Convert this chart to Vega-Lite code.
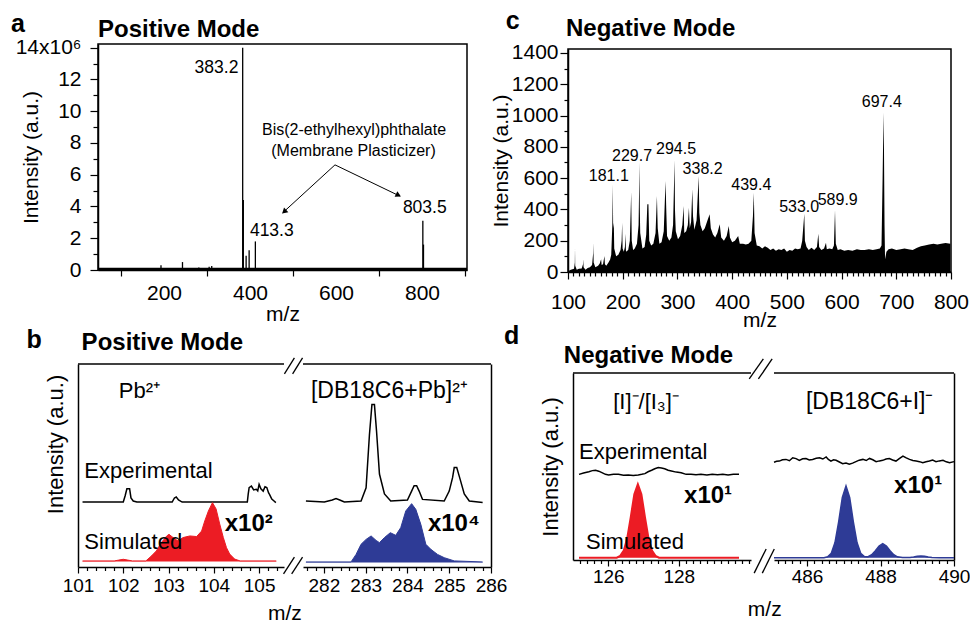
{
 "$schema": "https://vega.github.io/schema/vega-lite/v6.json",
 "background": "white",
 "padding": {"left": 10, "top": 8, "right": 0, "bottom": 0},
 "config": {
  "font": "Liberation Sans",
  "view": {"stroke": null},
  "axis": {"labelFont": "Liberation Sans", "titleFont": "Liberation Sans", "labelColor": "#000", "titleColor": "#000", "domainColor": "#000", "tickColor": "#000", "grid": false, "domainWidth": 1.5, "tickWidth": 1.2, "titleFontWeight": "normal", "labelFlush": false, "labelBound": false},
  "text": {"font": "Liberation Sans", "color": "#000"}
 },
 "datasets": {
  "a_sticks": [{"mz":193,"y":0.3},{"mz":200,"y":0.12},{"mz":210,"y":0.1},{"mz":220,"y":0.12},{"mz":228,"y":0.1},{"mz":243,"y":0.5},{"mz":255,"y":0.1},{"mz":270,"y":0.12},{"mz":281,"y":0.15},{"mz":292,"y":0.1},{"mz":305,"y":0.2},{"mz":311,"y":0.25},{"mz":318,"y":0.12},{"mz":340,"y":0.08},{"mz":383,"y":14.0},{"mz":384.5,"y":4.4},{"mz":391,"y":0.9},{"mz":398,"y":1.25},{"mz":412.5,"y":1.8},{"mz":430,"y":0.1},{"mz":460,"y":0.08},{"mz":500,"y":0.08},{"mz":802,"y":3.1},{"mz":803.5,"y":1.6}],
  "a_labels": [{"mz":322.1,"y":12.43,"t":"383.2"},{"mz":450.7,"y":2.16,"t":"413.3"},{"mz":806.5,"y":3.62,"t":"803.5"}],
  "a_note": [{"mz":641.9,"y":8.49,"t":"Bis(2-ethylhexyl)phthalate"},{"mz":640.7,"y":7.19,"t":"(Membrane Plasticizer)"}],
  "a_arrows": [{"mz":597.7,"y":6.62,"mz2":476,"y2":3.6},{"mz":597.7,"y":6.62,"mz2":748,"y2":4.66}],
  "a_head1": [{"mz":479.5,"y":3.67}],
  "a_head2": [{"mz":745.3,"y":4.71}],
  "a_letter": [{"mz":-155.8,"y":14.99,"t":"a"}],
  "a_title": [{"mz":46.5,"y":14.67,"t":"Positive Mode"}],
  "c_profile": [{"mz":100.5,"y":5},{"mz":104,"y":12},{"mz":108,"y":18},{"mz":111,"y":20},{"mz":112.5,"y":60},{"mz":112.8,"y":155},{"mz":113.2,"y":40},{"mz":116,"y":15},{"mz":120,"y":20},{"mz":125,"y":22},{"mz":127.5,"y":50},{"mz":128,"y":81},{"mz":128.5,"y":30},{"mz":132,"y":15},{"mz":136,"y":25},{"mz":140,"y":30},{"mz":144,"y":45},{"mz":146,"y":120},{"mz":146.4,"y":187},{"mz":146.9,"y":60},{"mz":150,"y":30},{"mz":155,"y":40},{"mz":158,"y":55},{"mz":160.5,"y":81},{"mz":161.5,"y":45},{"mz":164,"y":50},{"mz":166.6,"y":103},{"mz":167.5,"y":50},{"mz":170,"y":40},{"mz":174,"y":60},{"mz":177,"y":80},{"mz":179,"y":110},{"mz":181,"y":300},{"mz":181.9,"y":561},{"mz":182.5,"y":280},{"mz":183.7,"y":315},{"mz":184.5,"y":150},{"mz":188,"y":100},{"mz":192,"y":110},{"mz":196,"y":140},{"mz":198,"y":200},{"mz":199,"y":315},{"mz":199.8,"y":150},{"mz":202,"y":130},{"mz":204,"y":160},{"mz":205,"y":245},{"mz":206,"y":130},{"mz":210,"y":140},{"mz":213,"y":200},{"mz":215.5,"y":511},{"mz":216.5,"y":200},{"mz":219,"y":140},{"mz":222,"y":150},{"mz":226,"y":180},{"mz":229,"y":300},{"mz":230.7,"y":699},{"mz":231.2,"y":411},{"mz":232,"y":250},{"mz":236,"y":150},{"mz":240,"y":160},{"mz":243,"y":240},{"mz":245,"y":433},{"mz":247,"y":433},{"mz":248.5,"y":200},{"mz":252,"y":170},{"mz":256,"y":180},{"mz":260,"y":250},{"mz":262.5,"y":486},{"mz":264,"y":280},{"mz":267,"y":180},{"mz":271,"y":190},{"mz":275,"y":260},{"mz":278.3,"y":582},{"mz":279.5,"y":411},{"mz":281,"y":230},{"mz":285,"y":200},{"mz":289,"y":220},{"mz":292,"y":300},{"mz":294.8,"y":714},{"mz":295.5,"y":400},{"mz":297,"y":260},{"mz":301,"y":210},{"mz":305,"y":230},{"mz":309,"y":300},{"mz":311.3,"y":422},{"mz":312.5,"y":250},{"mz":316,"y":260},{"mz":319,"y":300},{"mz":321,"y":411},{"mz":322.5,"y":280},{"mz":325,"y":320},{"mz":327.2,"y":529},{"mz":328.5,"y":357},{"mz":331,"y":270},{"mz":335,"y":330},{"mz":338.8,"y":614},{"mz":340,"y":379},{"mz":342,"y":300},{"mz":346,"y":260},{"mz":350,"y":280},{"mz":355,"y":330},{"mz":358.9,"y":369},{"mz":361,"y":280},{"mz":365,"y":240},{"mz":369,"y":220},{"mz":373,"y":250},{"mz":377.3,"y":305},{"mz":380,"y":220},{"mz":385,"y":200},{"mz":390,"y":230},{"mz":393.8,"y":294},{"mz":396,"y":220},{"mz":400,"y":190},{"mz":405,"y":200},{"mz":411,"y":230},{"mz":414,"y":180},{"mz":420,"y":180},{"mz":425,"y":175},{"mz":430,"y":180},{"mz":435,"y":200},{"mz":438,"y":357},{"mz":439.6,"y":507},{"mz":441,"y":250},{"mz":445,"y":170},{"mz":450,"y":165},{"mz":455,"y":150},{"mz":460,"y":165},{"mz":465,"y":155},{"mz":470,"y":140},{"mz":475,"y":150},{"mz":480,"y":135},{"mz":485,"y":145},{"mz":490,"y":140},{"mz":495,"y":150},{"mz":500,"y":130},{"mz":505,"y":140},{"mz":510,"y":135},{"mz":515,"y":150},{"mz":520,"y":145},{"mz":525,"y":150},{"mz":528,"y":198},{"mz":531.9,"y":373},{"mz":533,"y":200},{"mz":536,"y":160},{"mz":540,"y":140},{"mz":545,"y":155},{"mz":550,"y":140},{"mz":555,"y":160},{"mz":557.5,"y":245},{"mz":559,"y":160},{"mz":563,"y":140},{"mz":568,"y":150},{"mz":571.5,"y":187},{"mz":573,"y":145},{"mz":578,"y":150},{"mz":583,"y":145},{"mz":586,"y":170},{"mz":588,"y":394},{"mz":589.5,"y":180},{"mz":593,"y":140},{"mz":598,"y":145},{"mz":605,"y":135},{"mz":612,"y":140},{"mz":620,"y":135},{"mz":628,"y":145},{"mz":635,"y":140},{"mz":642,"y":140},{"mz":650,"y":145},{"mz":657,"y":140},{"mz":664,"y":145},{"mz":670,"y":150},{"mz":673,"y":170},{"mz":675,"y":600},{"mz":676.7,"y":1019},{"mz":677.5,"y":795},{"mz":678.5,"y":300},{"mz":679.5,"y":81},{"mz":682,"y":130},{"mz":686,"y":145},{"mz":692,"y":150},{"mz":700,"y":140},{"mz":708,"y":145},{"mz":715,"y":150},{"mz":722,"y":145},{"mz":730,"y":140},{"mz":738,"y":155},{"mz":745,"y":165},{"mz":752,"y":170},{"mz":760,"y":175},{"mz":768,"y":180},{"mz":775,"y":175},{"mz":782,"y":180},{"mz":790,"y":185},{"mz":798.8,"y":180}],
  "c_labels": [{"mz":174.5,"y":582,"t":"181.1"},{"mz":217,"y":710,"t":"229.7"},{"mz":297.5,"y":752,"t":"294.5"},{"mz":346,"y":629,"t":"338.2"},{"mz":435,"y":525,"t":"439.4"},{"mz":522.5,"y":382,"t":"533.0"},{"mz":593,"y":425,"t":"589.9"},{"mz":673.5,"y":1052,"t":"697.4"}],
  "c_letter": [{"mz":-13.6,"y":1553,"t":"c"}],
  "c_title": [{"mz":96.3,"y":1509,"t":"Negative Mode"}],
  "bl_exp": [{"mz":101.1,"y":32},{"mz":102.0,"y":32},{"mz":102.04,"y":35},{"mz":102.08,"y":38.5},{"mz":102.14,"y":38.5},{"mz":102.17,"y":34},{"mz":102.22,"y":32.5},{"mz":102.3,"y":32},{"mz":103.08,"y":32},{"mz":103.13,"y":34},{"mz":103.17,"y":34.5},{"mz":103.22,"y":33},{"mz":103.3,"y":32},{"mz":104.74,"y":32},{"mz":104.76,"y":36},{"mz":104.78,"y":39.1},{"mz":104.83,"y":39.9},{"mz":104.88,"y":38},{"mz":104.94,"y":38.3},{"mz":104.97,"y":37.5},{"mz":105.0,"y":40.7},{"mz":105.04,"y":38.5},{"mz":105.09,"y":37.4},{"mz":105.13,"y":39.5},{"mz":105.17,"y":39.1},{"mz":105.21,"y":36.5},{"mz":105.23,"y":35.8},{"mz":105.28,"y":33.5},{"mz":105.33,"y":32.5},{"mz":105.37,"y":31.7}],
  "bl_sim": [{"mz":101.1,"y":3},{"mz":101.8,"y":3},{"mz":101.9,"y":3.4},{"mz":102.0,"y":3.8},{"mz":102.1,"y":3.4},{"mz":102.2,"y":3},{"mz":102.5,"y":3},{"mz":102.62,"y":5.4},{"mz":102.73,"y":7.9},{"mz":102.84,"y":12},{"mz":102.96,"y":15.3},{"mz":103.01,"y":16.1},{"mz":103.1,"y":14.5},{"mz":103.21,"y":12.8},{"mz":103.32,"y":14.5},{"mz":103.47,"y":15.3},{"mz":103.62,"y":15},{"mz":103.73,"y":17.7},{"mz":103.8,"y":22.7},{"mz":103.88,"y":27.6},{"mz":103.97,"y":31.7},{"mz":104.05,"y":28.6},{"mz":104.13,"y":21.2},{"mz":104.21,"y":14.5},{"mz":104.28,"y":9.5},{"mz":104.35,"y":6.4},{"mz":104.46,"y":3.9},{"mz":104.58,"y":3},{"mz":105.38,"y":3}],
  "bl_text": [{"mz":101.14,"y":43.8,"t":"Experimental"},{"mz":101.14,"y":8.9,"t":"Simulated"},{"mz":101.9,"y":83.3,"t":"Pb²⁺"}],
  "bl_bold": [{"mz":104.24,"y":17.7,"t":"x10²"}],
  "bl_letter": [{"mz":99.86,"y":107.9,"t":"b"}],
  "bl_title": [{"mz":101.08,"y":106.9,"t":"Positive Mode"}],
  "bl_mz": [{"mz":105.57,"y":-26.1,"t":"m/z"}],
  "bl_slash": [{"mz":105.56,"y":95.1,"mz2":105.78,"y2":103},{"mz":105.74,"y":95.1,"mz2":105.96,"y2":103},{"mz":105.54,"y":-3.4,"mz2":105.78,"y2":4.9},{"mz":105.72,"y":-3.4,"mz2":105.96,"y2":4.9}],
  "br_exp": [{"mz":281.57,"y":32.5},{"mz":282.01,"y":32},{"mz":282.2,"y":33},{"mz":282.29,"y":33.7},{"mz":282.38,"y":33},{"mz":282.49,"y":32},{"mz":282.89,"y":32.5},{"mz":283.01,"y":39},{"mz":283.09,"y":65},{"mz":283.15,"y":80},{"mz":283.21,"y":80},{"mz":283.26,"y":67},{"mz":283.33,"y":45.8},{"mz":283.45,"y":36},{"mz":283.6,"y":32.5},{"mz":284.0,"y":33},{"mz":284.1,"y":37.4},{"mz":284.16,"y":40},{"mz":284.22,"y":40},{"mz":284.28,"y":37.4},{"mz":284.36,"y":33.3},{"mz":284.88,"y":32.5},{"mz":285.0,"y":37.4},{"mz":285.08,"y":44},{"mz":285.12,"y":49},{"mz":285.18,"y":49},{"mz":285.26,"y":43.3},{"mz":285.36,"y":36},{"mz":285.48,"y":32.5},{"mz":285.8,"y":31.8}],
  "br_sim": [{"mz":281.57,"y":2.5},{"mz":282.65,"y":2.5},{"mz":282.77,"y":6.2},{"mz":282.89,"y":11.2},{"mz":283.01,"y":13.6},{"mz":283.13,"y":15.3},{"mz":283.25,"y":13.1},{"mz":283.33,"y":12},{"mz":283.45,"y":14.5},{"mz":283.59,"y":16.9},{"mz":283.72,"y":15.6},{"mz":283.84,"y":19.4},{"mz":283.96,"y":27.6},{"mz":284.1,"y":31.2},{"mz":284.2,"y":28.4},{"mz":284.32,"y":21},{"mz":284.44,"y":11.2},{"mz":284.56,"y":8.7},{"mz":284.72,"y":6.2},{"mz":284.88,"y":4.6},{"mz":285.12,"y":3},{"mz":285.8,"y":2.5}],
  "br_text": [{"mz":281.69,"y":83.3,"t":"[DB18C6+Pb]²⁺"}],
  "br_bold": [{"mz":284.49,"y":17.7,"t":"x10⁴"}],
  "dl_exp": [{"mz":125.17,"y":45.8},{"mz":125.3,"y":46.5},{"mz":125.45,"y":47.2},{"mz":125.55,"y":47.8},{"mz":125.64,"y":48},{"mz":125.73,"y":47.5},{"mz":125.82,"y":46.7},{"mz":125.92,"y":45.8},{"mz":126.01,"y":45.5},{"mz":126.15,"y":45.9},{"mz":126.29,"y":45.8},{"mz":126.43,"y":45.3},{"mz":126.57,"y":45.5},{"mz":126.71,"y":45.2},{"mz":126.85,"y":45.5},{"mz":126.95,"y":45.8},{"mz":127.04,"y":46.2},{"mz":127.13,"y":47.2},{"mz":127.23,"y":48},{"mz":127.32,"y":48.8},{"mz":127.42,"y":49.4},{"mz":127.51,"y":49.2},{"mz":127.6,"y":48.8},{"mz":127.7,"y":48},{"mz":127.79,"y":47.6},{"mz":127.93,"y":47},{"mz":128.07,"y":46.7},{"mz":128.21,"y":45.8},{"mz":128.35,"y":45.9},{"mz":128.49,"y":45.6},{"mz":128.63,"y":45.8},{"mz":128.8,"y":45.5},{"mz":128.95,"y":45.8},{"mz":129.1,"y":45.6},{"mz":129.25,"y":45.8},{"mz":129.4,"y":45.5},{"mz":129.55,"y":45.9},{"mz":129.71,"y":45.8}],
  "dl_sim": [{"mz":125.17,"y":1.2},{"mz":126.24,"y":1.2},{"mz":126.34,"y":2.2},{"mz":126.44,"y":5.0},{"mz":126.54,"y":11.8},{"mz":126.64,"y":23.1},{"mz":126.74,"y":35.2},{"mz":126.84,"y":40.5},{"mz":126.94,"y":35.2},{"mz":127.04,"y":23.1},{"mz":127.14,"y":11.8},{"mz":127.24,"y":5.0},{"mz":127.34,"y":2.2},{"mz":127.44,"y":1.2},{"mz":129.71,"y":1.2}],
  "dl_text": [{"mz":125.17,"y":54,"t":"Experimental"},{"mz":125.37,"y":5.9,"t":"Simulated"},{"mz":126.14,"y":80.7,"t":"[I]⁻/[I₃]⁻"}],
  "dl_bold": [{"mz":128.15,"y":30.5,"t":"x10¹"}],
  "dl_letter": [{"mz":123.04,"y":115.5,"t":"d"}],
  "dl_title": [{"mz":124.74,"y":105.3,"t":"Negative Mode"}],
  "dl_mz": [{"mz":130.44,"y":-29.9,"t":"m/z"}],
  "dl_slash": [{"mz":130.0,"y":96.8,"mz2":130.4,"y2":107.5},{"mz":130.26,"y":96.8,"mz2":130.65,"y2":107.5},{"mz":130.14,"y":-7,"mz2":130.48,"y2":5.9},{"mz":130.37,"y":-7,"mz2":130.71,"y2":5.9}],
  "dr_exp": [{"mz":485.1,"y":52.3},{"mz":485.17,"y":52.8},{"mz":485.245,"y":52.9},{"mz":485.33,"y":53.6},{"mz":485.427,"y":53.8},{"mz":485.52,"y":53.1},{"mz":485.609,"y":54.7},{"mz":485.7,"y":54.2},{"mz":485.79,"y":53.3},{"mz":485.88,"y":54.1},{"mz":485.97,"y":54.3},{"mz":486.06,"y":53.5},{"mz":486.15,"y":53.8},{"mz":486.25,"y":54.4},{"mz":486.34,"y":54.7},{"mz":486.43,"y":54.0},{"mz":486.52,"y":55.1},{"mz":486.58,"y":53.8},{"mz":486.65,"y":52.9},{"mz":486.72,"y":53.6},{"mz":486.79,"y":53.3},{"mz":486.88,"y":52.4},{"mz":486.97,"y":51.5},{"mz":487.06,"y":51.9},{"mz":487.15,"y":51.2},{"mz":487.24,"y":51.8},{"mz":487.33,"y":52.6},{"mz":487.42,"y":53.4},{"mz":487.52,"y":53.8},{"mz":487.61,"y":53.2},{"mz":487.7,"y":54.3},{"mz":487.79,"y":53.6},{"mz":487.88,"y":52.6},{"mz":487.97,"y":53.0},{"mz":488.06,"y":53.3},{"mz":488.15,"y":54.0},{"mz":488.24,"y":54.3},{"mz":488.33,"y":53.5},{"mz":488.42,"y":52.9},{"mz":488.51,"y":54.2},{"mz":488.61,"y":55.6},{"mz":488.7,"y":54.6},{"mz":488.79,"y":53.8},{"mz":488.88,"y":53.2},{"mz":488.97,"y":52.9},{"mz":489.06,"y":52.6},{"mz":489.15,"y":52},{"mz":489.24,"y":52.5},{"mz":489.33,"y":52.9},{"mz":489.42,"y":53.4},{"mz":489.51,"y":52.6},{"mz":489.6,"y":53.0},{"mz":489.7,"y":53.3},{"mz":489.79,"y":52.5},{"mz":489.88,"y":52},{"mz":490.0,"y":52.6}],
  "dr_sim": [{"mz":485.1,"y":1.2},{"mz":486.46,"y":1.2},{"mz":486.56,"y":1.7},{"mz":486.66,"y":3.6},{"mz":486.76,"y":9.3},{"mz":486.86,"y":20.4},{"mz":486.96,"y":33.5},{"mz":487.06,"y":39.6},{"mz":487.16,"y":33.5},{"mz":487.26,"y":20.4},{"mz":487.36,"y":9.3},{"mz":487.46,"y":3.6},{"mz":487.56,"y":1.9},{"mz":487.66,"y":1.8},{"mz":487.76,"y":2.8},{"mz":487.86,"y":4.95},{"mz":487.96,"y":7.5},{"mz":488.06,"y":8.7},{"mz":488.16,"y":7.5},{"mz":488.26,"y":4.95},{"mz":488.36,"y":2.8},{"mz":488.46,"y":1.7},{"mz":488.6,"y":1.3},{"mz":488.8,"y":1.4},{"mz":488.9,"y":1.65},{"mz":489.0,"y":2.0},{"mz":489.1,"y":2.1},{"mz":489.2,"y":2.0},{"mz":489.3,"y":1.65},{"mz":489.4,"y":1.4},{"mz":489.6,"y":1.2},{"mz":490.0,"y":1.2}],
  "dr_text": [{"mz":485.97,"y":80.7,"t":"[DB18C6+I]⁻"}],
  "dr_bold": [{"mz":488.37,"y":35.8,"t":"x10¹"}]
 },
 "bounds": "flush",
 "spacing": 320,
 "vconcat": [
  {
   "bounds": "flush",
   "spacing": 19,
   "hconcat": [
    {"width": 1, "height": 1, "data": {"values": [{}]}, "mark": {"type": "point", "opacity": 0}, "encoding": {}},
    {
     "bounds": "flush",
     "spacing": 101,
     "hconcat": [
      {
       "width": 369, "height": 226,
       "view": {"stroke": "#000", "strokeWidth": 1.5},
       "resolve": {"axis": {"x": "independent", "y": "independent"}},
       "layer": [
        {"data": {"name": "a_sticks"}, "mark": {"type": "rule", "color": "#000", "strokeWidth": 1.3},
         "encoding": {
          "x": {"field": "mz", "type": "quantitative", "scale": {"domain": [46.5, 904.7], "nice": false, "zero": false},
                "axis": {"orient": "bottom", "values": [200,400,600,800], "format": "d", "ticks": false, "labelFontSize": 21, "labelPadding": 12, "title": "m/z", "titleFontSize": 21, "titlePadding": 0}},
          "y": {"field": "y", "type": "quantitative", "scale": {"domain": [0, 14.23], "nice": false},
                "axis": {"orient": "left", "values": [0,2,4,6,8,10,12,14], "labelExpr": "datum.value === 14 ? '14x10⁶' : '' + datum.value", "tickSize": 8, "labelFontSize": 21, "labelPadding": 9, "title": "Intensity (a.u.)", "titleFontSize": 21, "titleX": -57}},
          "y2": {"datum": 0}
         }},
        {"data": {"values": [{}]}, "mark": {"type": "rule", "color": "#000", "strokeWidth": 2.5}, "encoding": {"y": {"datum": 0.07, "axis": null}}},
        {"data": {"name": "a_labels"}, "mark": {"type": "text", "fontSize": 17.5, "align": "center", "baseline": "alphabetic"},
         "encoding": {
          "x": {"field": "mz", "type": "quantitative", "axis": {"orient": "bottom", "values": [100,300,500,700,900], "labels": false, "domain": false, "tickSize": 6, "title": null}},
          "y": {"field": "y", "type": "quantitative", "axis": {"orient": "left", "values": [1,3,5,7,9,11,13], "labels": false, "domain": false, "tickSize": 5, "title": null}},
          "text": {"field": "t"}}},
        {"data": {"name": "a_note"}, "mark": {"type": "text", "fontSize": 16, "align": "center", "baseline": "alphabetic"},
         "encoding": {"x": {"field": "mz", "type": "quantitative", "axis": null}, "y": {"field": "y", "type": "quantitative", "axis": null}, "text": {"field": "t"}}},
        {"data": {"name": "a_arrows"}, "mark": {"type": "rule", "color": "#000", "strokeWidth": 1},
         "encoding": {"x": {"field": "mz", "type": "quantitative", "axis": null}, "y": {"field": "y", "type": "quantitative", "axis": null}, "x2": {"field": "mz2"}, "y2": {"field": "y2"}}},
        {"data": {"name": "a_head1"}, "mark": {"type": "point", "shape": "triangle-up", "filled": true, "size": 40, "angle": 227, "color": "#000", "opacity": 1},
         "encoding": {"x": {"field": "mz", "type": "quantitative", "axis": null}, "y": {"field": "y", "type": "quantitative", "axis": null}}},
        {"data": {"name": "a_head2"}, "mark": {"type": "point", "shape": "triangle-up", "filled": true, "size": 40, "angle": 116, "color": "#000", "opacity": 1},
         "encoding": {"x": {"field": "mz", "type": "quantitative", "axis": null}, "y": {"field": "y", "type": "quantitative", "axis": null}}},
        {"data": {"name": "a_letter"}, "mark": {"type": "text", "fontSize": 25, "fontWeight": "bold", "align": "left", "baseline": "alphabetic"},
         "encoding": {"x": {"field": "mz", "type": "quantitative", "axis": null}, "y": {"field": "y", "type": "quantitative", "axis": null}, "text": {"field": "t"}}},
        {"data": {"name": "a_title"}, "mark": {"type": "text", "fontSize": 24, "fontWeight": "bold", "align": "left", "baseline": "alphabetic"},
         "encoding": {"x": {"field": "mz", "type": "quantitative", "axis": null}, "y": {"field": "y", "type": "quantitative", "axis": null}, "text": {"field": "t"}}}
       ]
      },
      {
       "bounds": "flush",
       "spacing": 4,
       "vconcat": [
        {"width": 1, "height": 1, "data": {"values": [{}]}, "mark": {"type": "point", "opacity": 0}, "encoding": {}},
        {
         "width": 383, "height": 223,
         "view": {"stroke": "#000", "strokeWidth": 1.5},
         "resolve": {"axis": {"x": "independent", "y": "independent"}},
         "layer": [
          {"data": {"name": "c_profile"}, "mark": {"type": "area", "color": "#000", "opacity": 1, "interpolate": "linear"},
           "encoding": {
            "x": {"field": "mz", "type": "quantitative", "scale": {"domain": [100, 800], "nice": false, "zero": false},
                  "axis": {"orient": "bottom", "values": [100,200,300,400,500,600,700,800], "format": "d", "tickSize": 7, "labelFontSize": 21, "labelPadding": 12, "title": "m/z", "titleFontSize": 21, "titlePadding": -3}},
            "y": {"field": "y", "type": "quantitative", "scale": {"domain": [0, 1425], "nice": false},
                  "axis": {"orient": "left", "values": [0,200,400,600,800,1000,1200,1400], "format": "d", "tickSize": 8, "labelFontSize": 21, "labelPadding": 2, "title": "Intensity (a.u.)", "titleFontSize": 21, "titleX": -57}}
           }},
          {"data": {"name": "c_labels"}, "mark": {"type": "text", "fontSize": 16, "align": "center", "baseline": "alphabetic"},
           "encoding": {
            "x": {"field": "mz", "type": "quantitative", "axis": {"orient": "bottom", "values": [110,120,130,140,150,160,170,180,190,210,220,230,240,250,260,270,280,290,310,320,330,340,350,360,370,380,390,410,420,430,440,450,460,470,480,490,510,520,530,540,550,560,570,580,590,610,620,630,640,650,660,670,680,690,710,720,730,740,750,760,770,780,790], "labels": false, "domain": false, "tickSize": 4, "title": null}},
            "y": {"field": "y", "type": "quantitative", "axis": {"orient": "left", "values": [100,300,500,700,900,1100,1300], "labels": false, "domain": false, "tickSize": 4, "title": null}},
            "text": {"field": "t"}}},
          {"data": {"name": "c_letter"}, "mark": {"type": "text", "fontSize": 25, "fontWeight": "bold", "align": "left", "baseline": "alphabetic"},
           "encoding": {"x": {"field": "mz", "type": "quantitative", "axis": null}, "y": {"field": "y", "type": "quantitative", "axis": null}, "text": {"field": "t"}}},
          {"data": {"name": "c_title"}, "mark": {"type": "text", "fontSize": 24, "fontWeight": "bold", "align": "left", "baseline": "alphabetic"},
           "encoding": {"x": {"field": "mz", "type": "quantitative", "axis": null}, "y": {"field": "y", "type": "quantitative", "axis": null}, "text": {"field": "t"}}}
         ]
        }
       ]
      }
     ]
    }
   ]
  },
  {
   "bounds": "flush",
   "spacing": 495,
   "hconcat": [
    {
     "bounds": "flush",
     "spacing": 19,
     "hconcat": [
      {
       "width": 206, "height": 203,
       "resolve": {"axis": {"x": "independent"}},
       "layer": [
        {"data": {"name": "bl_exp"}, "mark": {"type": "line", "color": "#000", "strokeWidth": 1.5},
         "encoding": {
          "x": {"field": "mz", "type": "quantitative", "scale": {"domain": [101, 105.55], "nice": false, "zero": false},
                "axis": {"orient": "bottom", "values": [101,102,103,104,105], "format": "d", "tickSize": 6, "labelFontSize": 19, "labelPadding": 3, "title": null}},
          "y": {"field": "y", "type": "quantitative", "scale": {"domain": [0, 100], "nice": false},
                "axis": {"labels": false, "ticks": false, "title": "Intensity (a.u.)", "titleFontSize": 22, "titleX": -11, "titleY": 80}}
         }},
        {"data": {"name": "bl_sim"}, "mark": {"type": "area", "color": "#ec1c24", "opacity": 1, "line": {"color": "#ec1c24", "strokeWidth": 1}},
         "encoding": {
          "x": {"field": "mz", "type": "quantitative", "axis": {"orient": "bottom", "values": [101.2,101.4,101.6,101.8,102.2,102.4,102.6,102.8,103.2,103.4,103.6,103.8,104.2,104.4,104.6,104.8,105.2,105.4], "labels": false, "domain": false, "tickSize": 3.5, "title": null}},
          "y": {"field": "y", "type": "quantitative"}, "y2": {"datum": 2.7}}},
        {"data": {"values": [{}]}, "mark": {"type": "rule", "color": "#000", "strokeWidth": 1.5}, "encoding": {"y": {"datum": 100}}},
        {"data": {"name": "bl_slash"}, "mark": {"type": "rule", "color": "#000", "strokeWidth": 1.3},
         "encoding": {"x": {"field": "mz", "type": "quantitative", "axis": null}, "y": {"field": "y", "type": "quantitative"}, "x2": {"field": "mz2"}, "y2": {"field": "y2"}}},
        {"data": {"name": "bl_text"}, "mark": {"type": "text", "fontSize": 22, "align": "left", "baseline": "alphabetic"},
         "encoding": {"x": {"field": "mz", "type": "quantitative", "axis": null}, "y": {"field": "y", "type": "quantitative"}, "text": {"field": "t"}}},
        {"data": {"name": "bl_bold"}, "mark": {"type": "text", "fontSize": 24, "fontWeight": "bold", "align": "left", "baseline": "alphabetic"},
         "encoding": {"x": {"field": "mz", "type": "quantitative", "axis": null}, "y": {"field": "y", "type": "quantitative"}, "text": {"field": "t"}}},
        {"data": {"name": "bl_letter"}, "mark": {"type": "text", "fontSize": 25, "fontWeight": "bold", "align": "left", "baseline": "alphabetic"},
         "encoding": {"x": {"field": "mz", "type": "quantitative", "axis": null}, "y": {"field": "y", "type": "quantitative"}, "text": {"field": "t"}}},
        {"data": {"name": "bl_title"}, "mark": {"type": "text", "fontSize": 24, "fontWeight": "bold", "align": "left", "baseline": "alphabetic"},
         "encoding": {"x": {"field": "mz", "type": "quantitative", "axis": null}, "y": {"field": "y", "type": "quantitative"}, "text": {"field": "t"}}},
        {"data": {"name": "bl_mz"}, "mark": {"type": "text", "fontSize": 21, "align": "center", "baseline": "alphabetic"},
         "encoding": {"x": {"field": "mz", "type": "quantitative", "axis": null}, "y": {"field": "y", "type": "quantitative"}, "text": {"field": "t"}}}
       ]
      },
      {
       "width": 188, "height": 203,
       "resolve": {"axis": {"x": "independent"}},
       "layer": [
        {"data": {"name": "br_exp"}, "mark": {"type": "line", "color": "#000", "strokeWidth": 1.5},
         "encoding": {
          "x": {"field": "mz", "type": "quantitative", "scale": {"domain": [281.5, 286], "nice": false, "zero": false},
                "axis": {"orient": "bottom", "values": [282,283,284,285,286], "format": "d", "tickSize": 6, "labelFontSize": 19, "labelPadding": 3, "title": null}},
          "y": {"field": "y", "type": "quantitative", "scale": {"domain": [0, 100], "nice": false},
                "axis": {"orient": "right", "labels": false, "ticks": false, "title": null}}
         }},
        {"data": {"name": "br_sim"}, "mark": {"type": "area", "color": "#2e3b96", "opacity": 1, "line": {"color": "#2e3b96", "strokeWidth": 1}},
         "encoding": {
          "x": {"field": "mz", "type": "quantitative", "axis": {"orient": "bottom", "values": [281.6,281.8,282.2,282.4,282.6,282.8,283.2,283.4,283.6,283.8,284.2,284.4,284.6,284.8,285.2,285.4,285.6,285.8], "labels": false, "domain": false, "tickSize": 3.5, "title": null}},
          "y": {"field": "y", "type": "quantitative"}, "y2": {"datum": 2.2}}},
        {"data": {"values": [{}]}, "mark": {"type": "rule", "color": "#000", "strokeWidth": 1.5}, "encoding": {"y": {"datum": 100}}},
        {"data": {"name": "br_text"}, "mark": {"type": "text", "fontSize": 23, "align": "left", "baseline": "alphabetic"},
         "encoding": {"x": {"field": "mz", "type": "quantitative", "axis": null}, "y": {"field": "y", "type": "quantitative"}, "text": {"field": "t"}}},
        {"data": {"name": "br_bold"}, "mark": {"type": "text", "fontSize": 24, "fontWeight": "bold", "align": "left", "baseline": "alphabetic"},
         "encoding": {"x": {"field": "mz", "type": "quantitative", "axis": null}, "y": {"field": "y", "type": "quantitative"}, "text": {"field": "t"}}}
       ]
      }
     ]
    },
    {
     "bounds": "flush",
     "spacing": 8,
     "vconcat": [
      {"width": 1, "height": 1, "data": {"values": [{}]}, "mark": {"type": "point", "opacity": 0}, "encoding": {}},
      {
       "bounds": "flush",
       "spacing": 23,
       "hconcat": [
        {
         "width": 178, "height": 187,
         "resolve": {"axis": {"x": "independent"}},
         "layer": [
          {"data": {"name": "dl_exp"}, "mark": {"type": "line", "color": "#000", "strokeWidth": 1.5},
           "encoding": {
            "x": {"field": "mz", "type": "quantitative", "scale": {"domain": [125, 130.05], "nice": false, "zero": false},
                  "axis": {"orient": "bottom", "values": [126,128], "format": "d", "tickSize": 6, "labelFontSize": 19, "labelPadding": 1, "title": null}},
            "y": {"field": "y", "type": "quantitative", "scale": {"domain": [0, 100], "nice": false},
                  "axis": {"labels": false, "ticks": false, "title": "Intensity (a.u.)", "titleFontSize": 22, "titleX": -11}}
           }},
          {"data": {"name": "dl_sim"}, "mark": {"type": "area", "color": "#ec1c24", "opacity": 1, "line": {"color": "#ec1c24", "strokeWidth": 2}},
           "encoding": {
            "x": {"field": "mz", "type": "quantitative", "axis": {"orient": "bottom", "values": [125.2,125.4,125.6,125.8,126.2,126.4,126.6,126.8,127,127.2,127.4,127.6,127.8,128.2,128.4,128.6,128.8,129,129.2,129.4,129.6,129.8,130], "labels": false, "domain": false, "tickSize": 3.5, "title": null}},
            "y": {"field": "y", "type": "quantitative"}, "y2": {"datum": 1.2}}},
          {"data": {"values": [{}]}, "mark": {"type": "rule", "color": "#000", "strokeWidth": 1.5}, "encoding": {"y": {"datum": 100}}},
          {"data": {"name": "dl_slash"}, "mark": {"type": "rule", "color": "#000", "strokeWidth": 1.3},
           "encoding": {"x": {"field": "mz", "type": "quantitative", "axis": null}, "y": {"field": "y", "type": "quantitative"}, "x2": {"field": "mz2"}, "y2": {"field": "y2"}}},
          {"data": {"name": "dl_text"}, "mark": {"type": "text", "fontSize": 22, "align": "left", "baseline": "alphabetic"},
           "encoding": {"x": {"field": "mz", "type": "quantitative", "axis": null}, "y": {"field": "y", "type": "quantitative"}, "text": {"field": "t"}}},
          {"data": {"name": "dl_bold"}, "mark": {"type": "text", "fontSize": 24, "fontWeight": "bold", "align": "left", "baseline": "alphabetic"},
           "encoding": {"x": {"field": "mz", "type": "quantitative", "axis": null}, "y": {"field": "y", "type": "quantitative"}, "text": {"field": "t"}}},
          {"data": {"name": "dl_letter"}, "mark": {"type": "text", "fontSize": 25, "fontWeight": "bold", "align": "left", "baseline": "alphabetic"},
           "encoding": {"x": {"field": "mz", "type": "quantitative", "axis": null}, "y": {"field": "y", "type": "quantitative"}, "text": {"field": "t"}}},
          {"data": {"name": "dl_title"}, "mark": {"type": "text", "fontSize": 24, "fontWeight": "bold", "align": "left", "baseline": "alphabetic"},
           "encoding": {"x": {"field": "mz", "type": "quantitative", "axis": null}, "y": {"field": "y", "type": "quantitative"}, "text": {"field": "t"}}},
          {"data": {"name": "dl_mz"}, "mark": {"type": "text", "fontSize": 21, "align": "center", "baseline": "alphabetic"},
           "encoding": {"x": {"field": "mz", "type": "quantitative", "axis": null}, "y": {"field": "y", "type": "quantitative"}, "text": {"field": "t"}}}
         ]
        },
        {
         "width": 180, "height": 187,
         "resolve": {"axis": {"x": "independent"}},
         "layer": [
          {"data": {"name": "dr_exp"}, "mark": {"type": "line", "color": "#000", "strokeWidth": 1.5},
           "encoding": {
            "x": {"field": "mz", "type": "quantitative", "scale": {"domain": [485.1, 490], "nice": false, "zero": false},
                  "axis": {"orient": "bottom", "values": [486,488,490], "format": "d", "tickSize": 6, "labelFontSize": 19, "labelPadding": 1, "title": null}},
            "y": {"field": "y", "type": "quantitative", "scale": {"domain": [0, 100], "nice": false},
                  "axis": {"orient": "right", "labels": false, "ticks": false, "title": null}}
           }},
          {"data": {"name": "dr_sim"}, "mark": {"type": "area", "color": "#2e3b96", "opacity": 1, "line": {"color": "#2e3b96", "strokeWidth": 1.5}},
           "encoding": {
            "x": {"field": "mz", "type": "quantitative", "axis": {"orient": "bottom", "values": [485.2,485.4,485.6,485.8,486.2,486.4,486.6,486.8,487,487.2,487.4,487.6,487.8,488.2,488.4,488.6,488.8,489,489.2,489.4,489.6,489.8], "labels": false, "domain": false, "tickSize": 3.5, "title": null}},
            "y": {"field": "y", "type": "quantitative"}, "y2": {"datum": 1.2}}},
          {"data": {"values": [{}]}, "mark": {"type": "rule", "color": "#000", "strokeWidth": 1.5}, "encoding": {"y": {"datum": 100}}},
          {"data": {"name": "dr_text"}, "mark": {"type": "text", "fontSize": 23, "align": "left", "baseline": "alphabetic"},
           "encoding": {"x": {"field": "mz", "type": "quantitative", "axis": null}, "y": {"field": "y", "type": "quantitative"}, "text": {"field": "t"}}},
          {"data": {"name": "dr_bold"}, "mark": {"type": "text", "fontSize": 24, "fontWeight": "bold", "align": "left", "baseline": "alphabetic"},
           "encoding": {"x": {"field": "mz", "type": "quantitative", "axis": null}, "y": {"field": "y", "type": "quantitative"}, "text": {"field": "t"}}}
         ]
        }
       ]
      }
     ]
    }
   ]
  }
 ]
}
